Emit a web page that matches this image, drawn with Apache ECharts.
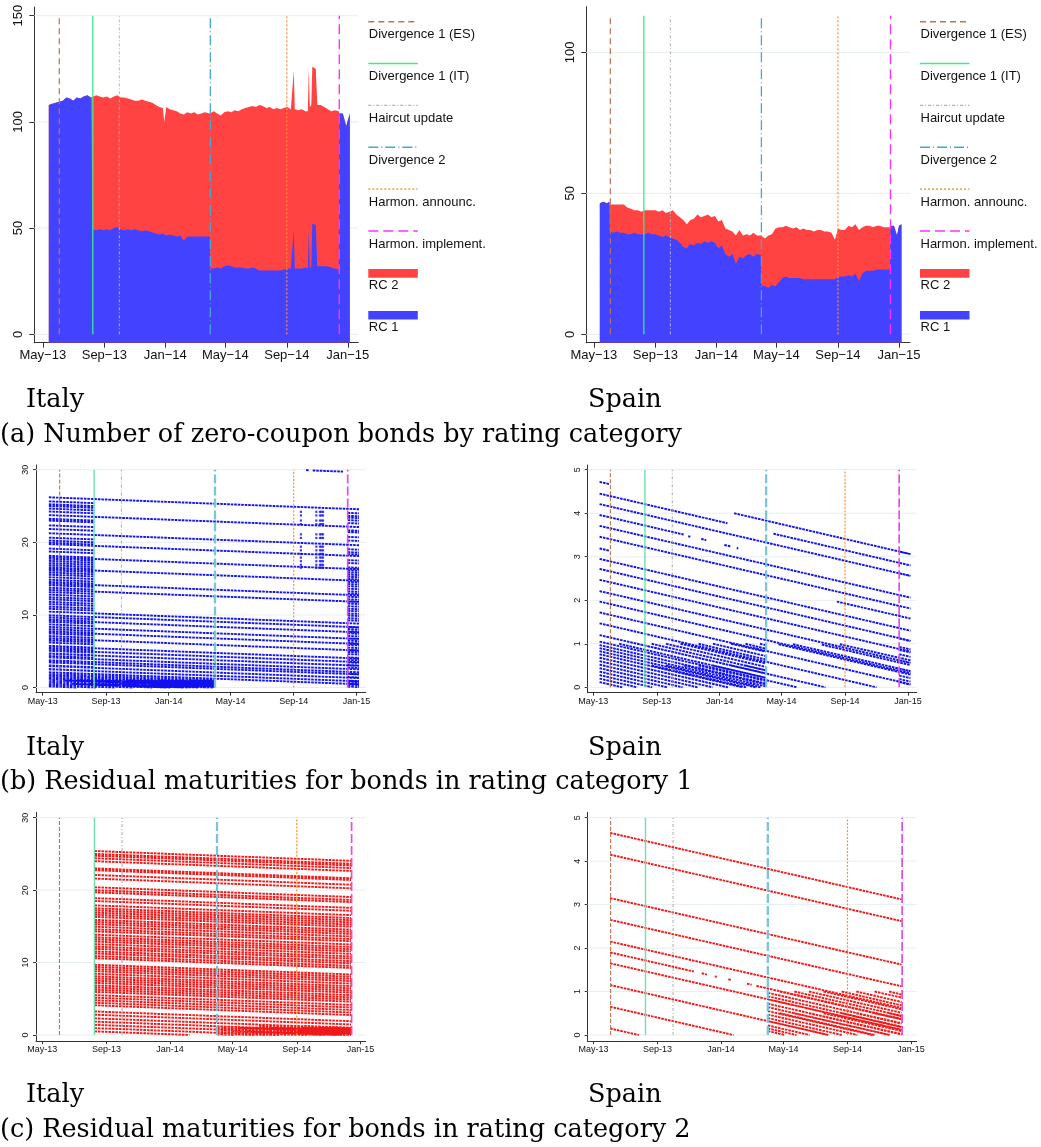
<!DOCTYPE html>
<html><head><meta charset="utf-8">
<script src="https://cdn.jsdelivr.net/npm/echarts@6/dist/echarts.min.js"></script>
<style>html,body{margin:0;padding:0;background:#fff}#c{width:1041px;height:1147px}</style>
</head><body><div id="c"></div>
<script>
// ================= DATA =================
const eventNames = ['Divergence 1 (ES)','Divergence 1 (IT)','Haircut update','Divergence 2','Harmon. announc.','Harmon. implement.'];
const eventDates = ['2013-06-03','2013-08-09','2013-10-01','2014-04-01','2014-09-01','2014-12-15'];
const seriesNames = ['RC 2','RC 1'];
const tickDates = ['2013-05-01','2013-09-01','2014-01-01','2014-05-01','2014-09-01','2015-01-01'];
const tickLabelsTop = ['May\u221213','Sep\u221213','Jan\u221214','May\u221214','Sep\u221214','Jan\u221215'];
const tickLabelsSmall = ['May-13','Sep-13','Jan-14','May-14','Sep-14','Jan-15'];
const captionCountries = ['Italy','Spain'];
const captionTitles = ['(a) Number of zero-coupon bonds by rating category','(b) Residual maturities for bonds in rating category 1','(c) Residual maturities for bonds in rating category 2'];

// --- (a) Italy: number of bonds. RC 1 = height of blue band; RC 2 top = top edge of red band (RC 1 + RC 2)
const itDates = ['2013-05-13','2013-05-20','2013-05-27','2013-06-03','2013-06-10','2013-06-17','2013-06-24','2013-07-01','2013-07-08','2013-07-15','2013-07-22','2013-07-29','2013-08-05','2013-08-08',
'2013-08-09','2013-08-16','2013-08-23','2013-08-30','2013-09-06','2013-09-13','2013-09-20','2013-09-27','2013-10-04','2013-10-11','2013-10-18','2013-10-25','2013-11-01','2013-11-08','2013-11-15','2013-11-22','2013-11-29','2013-12-06','2013-12-13','2013-12-20','2013-12-27','2013-12-30',
'2014-01-03','2014-01-10','2014-01-17','2014-01-24','2014-01-31','2014-02-07','2014-02-14','2014-02-21','2014-02-28','2014-03-07','2014-03-14','2014-03-21','2014-03-31',
'2014-04-01','2014-04-08','2014-04-15','2014-04-22','2014-04-29','2014-05-06','2014-05-13','2014-05-20','2014-05-27','2014-06-03','2014-06-10','2014-06-17','2014-06-24','2014-07-01','2014-07-08','2014-07-15','2014-07-22','2014-07-29','2014-08-05','2014-08-12','2014-08-19','2014-08-26','2014-09-02','2014-09-09','2014-09-13','2014-09-15','2014-09-17','2014-09-24','2014-10-01','2014-10-08','2014-10-13','2014-10-15','2014-10-17','2014-10-20','2014-10-22','2014-10-29','2014-11-01','2014-11-08','2014-11-15','2014-11-22','2014-11-29','2014-12-06','2014-12-14',
'2014-12-15','2014-12-22','2014-12-29','2014-12-31','2015-01-05'];
const itRC1 = [108,108.5,109,109.5,110,111.5,111,110,111.5,111,112,112.5,111.5,112,
49.5,49,49.5,49,49.5,49,50,50.5,49.5,49,49.5,49,49.5,49,48.5,49,48.5,48,47.5,47,47.5,47,
46.5,47,46.5,46,46.5,44,46,46,46,46,46,46,46,
31,31,31.5,31,32,32.5,32,31.5,31.5,31.5,31,31,31.5,31,30,30,30,30,30,30,30,30.5,31,31,31,49,31,31,31,31.5,31,49,31,32,52,51.5,32,32,32,32,31.5,31,30.5,
104,104,98,100,104];
const itRC2Top = [108,108.5,109,109.5,110,111.5,111,110,111.5,111,112,112.5,111.5,112,
112,112.5,112,111.5,112,111,112,112.5,111.5,111.5,111,110.5,110,110,110.5,110,109.5,109,108,107,106.5,100,
107,106,105.5,105,104,103.5,104.5,104,104.5,103.5,104,104.5,104,
104,105,104,103,104.5,105,104.5,105.5,105,106,106.5,107,107.5,107,108,107.5,106.5,107,106,106.5,106,106.5,107,106,106,124,106,105.5,106,105,105,125,107,108,126,125,108,108,107,106,105,105.5,105,
104,104,98,100,104];

// --- (a) Spain: number of bonds
const esDates = ['2013-05-13','2013-05-20','2013-05-27','2013-06-01',
'2013-06-02','2013-06-09','2013-06-16','2013-06-23','2013-06-30','2013-07-07','2013-07-14','2013-07-21','2013-07-28','2013-08-04','2013-08-11','2013-08-18','2013-08-25','2013-09-01','2013-09-08','2013-09-15','2013-09-22','2013-09-29','2013-10-06','2013-10-13','2013-10-20','2013-10-27','2013-11-03','2013-11-10','2013-11-17','2013-11-24','2013-12-01','2013-12-08','2013-12-15','2013-12-22','2013-12-29','2014-01-05','2014-01-12','2014-01-19','2014-01-26','2014-02-02','2014-02-09','2014-02-16','2014-02-23','2014-03-02','2014-03-09','2014-03-16','2014-03-23','2014-03-31',
'2014-04-01','2014-04-08','2014-04-15','2014-04-22','2014-04-29','2014-05-06','2014-05-13','2014-05-20','2014-05-27','2014-06-03','2014-06-10','2014-06-17','2014-06-24','2014-07-01','2014-07-08','2014-07-15','2014-07-22','2014-07-29','2014-08-05','2014-08-12','2014-08-19','2014-08-26','2014-09-01','2014-09-08','2014-09-15','2014-09-22','2014-09-29','2014-10-06','2014-10-13','2014-10-20','2014-10-27','2014-11-03','2014-11-10','2014-11-17','2014-11-24','2014-12-01','2014-12-08','2014-12-14',
'2014-12-15','2014-12-22','2014-12-28','2015-01-01','2015-01-06'];
const esRC1 = [46.5,47,46.5,47,
36.5,36,36.5,36,36,35.5,35.5,36,35.5,35.5,35.5,36,35.5,35.5,35,34.5,35,34.5,34,33.5,32.5,31,30.5,32,31.5,32.5,32,33,32.5,33,32.5,30.5,31.5,28.5,27.5,28.5,25,27.5,27,28,28.5,27.5,28.5,28,
17.5,17,16.5,17.5,17,18.5,20,20.5,20,20,20,20,19.5,19.5,19.5,19.5,19.5,19.5,19.5,19.5,19.5,19.5,20.5,20.5,20.5,21,20.5,21.5,19,21.5,22.5,22.5,22.5,23,23,23,23,23,
38.5,38.5,35,38.5,39];
const esRC2Top = [46.5,47,46.5,47,
46,46,46,46,46,45,44.5,44,44,43.5,44,44,44,44,43.5,44,43,43.5,44,42.5,41.5,40.5,39,40.5,41,42.5,41.5,42,42.5,41.5,42,40,40.5,37.5,37,36.5,35,37,35,35.5,35,36,35,35,
35,34,35,35.5,37.5,38,38,38.5,38,37.5,38,37,37.5,37,37,36.5,37,37,36.5,36.5,36,33.5,37.5,37,37,38.5,38,39,37,38,38.5,38.5,38,38.5,38.5,38,38,38,
38.5,38.5,35,38.5,39];

// --- (b) Italy RC1 residual maturities (years): [value at span start, value at span end]
const itRC1LongSpan = ['2013-05-13','2015-01-06'];
const itRC1Long = [[26.2,24.55],[23.75,22.1],[21.25,19.6],[19.75,18.1],[17.95,16.3],[16.35,14.7],[14.35,12.7],[13.45,11.8],[10.45,8.8],[9.95,8.3],[9.25,7.6],[8.35,6.7],[7.65,6.0],[6.75,5.1],[5.65,4.0],[5.15,3.5],[4.65,3.0],[4.15,2.5],[3.75,2.1],[3.45,1.8],[2.95,1.3],[2.5,0.85],[2.1,0.45]];
const itRC1PreSpan = ['2013-05-13','2013-08-08'];
const itRC1Pre = [[25.64,25.4],[25.24,25.0],[24.99,24.75],[24.64,24.4],[24.24,24.0],[23.24,23.0],[22.99,22.75],[22.34,22.1],[21.84,21.6],[20.64,20.4],[20.24,20.0],[19.94,19.7],[19.14,18.9],[18.74,18.5],[18.14,17.9],[17.74,17.5],[17.44,17.2],[17.14,16.9],[16.84,16.6],[16.54,16.3],[16.14,15.9],[15.84,15.6],[15.54,15.3],[15.19,14.95],[14.84,14.6],[14.54,14.3],[14.09,13.85],[13.74,13.5],[13.44,13.2],[13.14,12.9],[12.79,12.55],[12.44,12.2],[12.14,11.9],[11.79,11.55],[11.49,11.25],[11.14,10.9],[10.84,10.6],[9.94,9.7],[9.64,9.4],[9.34,9.1],[9.04,8.8],[8.69,8.45],[8.34,8.1],[8.04,7.8],[7.74,7.5],[7.44,7.2],[7.09,6.85],[6.79,6.55],[6.49,6.25],[6.19,5.95],[5.74,5.5],[5.39,5.15],[5.04,4.8],[4.69,4.45],[4.34,4.1],[3.49,3.25],[3.04,2.8],[2.54,2.3],[2.09,1.85],[1.64,1.4],[1.19,0.95],[0.74,0.5]];
const itRC1EndSpan = ['2014-12-15','2015-01-06'];
const itRC1End = [[24.05,23.99],[23.65,23.59],[23.4,23.34],[23.05,22.99],[22.65,22.59],[21.65,21.59],[21.4,21.34],[20.75,20.69],[20.25,20.19],[19.05,18.99],[18.65,18.59],[18.35,18.29],[17.55,17.49],[17.15,17.09],[16.55,16.49],[16.15,16.09],[15.85,15.79],[15.55,15.49],[15.25,15.19],[14.95,14.89],[14.55,14.49],[14.25,14.19],[13.95,13.89],[13.6,13.54],[13.25,13.19],[12.95,12.89],[12.5,12.44],[12.15,12.09],[11.85,11.79],[11.55,11.49],[11.2,11.14],[10.85,10.79],[10.55,10.49],[10.2,10.14],[9.9,9.84],[9.55,9.49],[9.25,9.19],[8.35,8.29],[8.05,7.99],[7.75,7.69],[7.45,7.39],[7.1,7.04],[6.75,6.69],[6.45,6.39],[6.15,6.09],[5.85,5.79],[5.5,5.44],[5.2,5.14],[4.9,4.84],[4.6,4.54],[4.15,4.09],[3.8,3.74],[3.45,3.39],[3.1,3.04],[2.75,2.69],[1.9,1.84],[1.45,1.39],[0.95,0.89],[0.5,0.44],[0.91,0.85],[0.83,0.77],[0.75,0.69],[0.66,0.6],[0.58,0.52],[0.42,0.36],[0.37,0.31],[0.33,0.27],[0.25,0.19],[0.17,0.11],[0.12,0.06]];
// explicit segments [start date, start value, end date, end value]
const itRC1Short = [
['2013-05-13',2.05,'2014-03-31',1.17],['2013-05-13',1.95,'2014-03-31',1.07],['2013-05-13',1.75,'2014-03-31',0.87],['2013-05-13',1.55,'2014-03-31',0.67],
['2013-05-13',1.35,'2014-03-31',0.47],['2013-05-13',1.15,'2014-03-31',0.27],['2013-05-13',1.05,'2014-03-31',0.17],['2013-05-13',0.95,'2014-03-31',0.07],
['2013-05-13',0.85,'2014-03-19',0],['2013-05-13',0.75,'2014-02-11',0],['2013-05-13',0.65,'2014-01-05',0],['2013-05-13',0.55,'2013-11-30',0],
['2013-05-13',0.45,'2013-10-24',0],['2013-05-13',0.35,'2013-09-18',0],['2013-05-13',0.25,'2013-08-12',0],['2013-05-13',0.15,'2013-07-07',0],
['2013-06-14',1.0,'2014-03-31',0.21],['2013-07-12',1.0,'2014-03-31',0.28],['2013-08-14',1.0,'2014-03-31',0.37],['2013-09-13',1.0,'2014-03-31',0.45],
['2013-10-14',1.0,'2014-03-31',0.54],['2013-11-14',1.0,'2014-03-31',0.62],['2013-12-13',1.0,'2014-03-31',0.70],['2014-01-14',1.0,'2014-03-31',0.79],
['2014-02-13',1.0,'2014-03-31',0.87],['2014-03-14',1.0,'2014-03-31',0.95],
['2013-06-28',0.5,'2013-12-27',0],['2013-07-30',0.5,'2014-01-28',0],['2013-08-29',0.5,'2014-02-27',0],['2013-09-27',0.5,'2014-03-28',0],
['2013-10-30',0.5,'2014-03-31',0.08],['2013-11-28',0.5,'2014-03-31',0.16],['2013-12-30',0.5,'2014-03-31',0.25],['2014-01-30',0.5,'2014-03-31',0.33],
['2014-02-27',0.5,'2014-03-31',0.41],
['2014-09-25',29.95,'2014-10-01',29.93],['2014-10-08',29.9,'2014-12-06',29.74]];
const itSpikeDates = ['2014-09-15','2014-10-15','2014-10-22','2014-10-25','2014-10-28'];
const itSpikeValues = [24.2,23.7,23.0,22.5,21.1,20.6,19.4,18.9,18.4,17.9,17.4,16.9,16.5];

// --- (c) Italy RC2 residual maturities
const itRC2MainSpan = ['2013-08-09','2014-12-14'];
const itRC2Main = [[25.4,24.05],[25.0,23.65],[24.75,23.4],[24.4,23.05],[24.0,22.65],[23.0,21.65],[22.75,21.4],[22.1,20.75],[21.6,20.25],[20.4,19.05],[20.0,18.65],[19.7,18.35],[18.9,17.55],[18.5,17.15],[17.9,16.55],[17.5,16.15],[17.2,15.85],[16.9,15.55],[16.6,15.25],[16.3,14.95],[15.9,14.55],[15.6,14.25],[15.3,13.95],[14.95,13.6],[14.6,13.25],[14.3,12.95],[13.85,12.5],[13.5,12.15],[13.2,11.85],[12.9,11.55],[12.55,11.2],[12.2,10.85],[11.9,10.55],[11.55,10.2],[11.25,9.9],[10.9,9.55],[10.6,9.25],[9.7,8.35],[9.4,8.05],[9.1,7.75],[8.8,7.45],[8.45,7.1],[8.1,6.75],[7.8,6.45],[7.5,6.15],[7.2,5.85],[6.85,5.5],[6.55,5.2],[6.25,4.9],[5.95,4.6],[5.5,4.15],[5.15,3.8],[4.8,3.45],[4.45,3.1],[4.1,2.75],[3.25,1.9],[2.8,1.45],[2.3,0.95],[1.85,0.5],[1.4,0.05]];
const itRC2Short = [
['2013-08-09',0.95,'2014-07-22',0],['2013-08-09',0.5,'2014-02-07',0],
['2014-04-01',1.17,'2014-12-14',0.47],['2014-04-01',1.07,'2014-12-14',0.37],['2014-04-01',0.87,'2014-12-14',0.17],['2014-04-01',0.67,'2014-12-02',0],
['2014-04-01',0.47,'2014-09-20',0],['2014-04-01',0.27,'2014-06-08',0],['2014-04-01',0.17,'2014-05-03',0],['2014-04-01',0.95,'2014-12-14',0.25],
['2014-04-01',0.79,'2014-12-14',0.09],['2014-04-01',0.70,'2014-12-13',0],['2014-04-01',0.62,'2014-11-15',0],['2014-04-01',0.54,'2014-10-17',0],
['2014-04-01',0.45,'2014-09-14',0],['2014-04-01',0.37,'2014-08-15',0],['2014-04-01',0.28,'2014-07-12',0],['2014-04-01',0.21,'2014-06-16',0],
['2014-04-01',0.41,'2014-08-29',0],['2014-04-01',0.33,'2014-07-30',0],['2014-04-01',0.25,'2014-06-30',0],['2014-04-01',0.16,'2014-05-29',0],
['2014-04-01',0.08,'2014-04-30',0],
['2014-04-14',1.0,'2014-12-14',0.33],['2014-05-14',1.0,'2014-12-14',0.42],['2014-06-13',1.0,'2014-12-14',0.5],['2014-07-14',1.0,'2014-12-14',0.58],
['2014-08-13',1.0,'2014-12-14',0.66],['2014-09-12',1.0,'2014-12-14',0.75],['2014-10-14',1.0,'2014-12-14',0.83],['2014-11-13',1.0,'2014-12-14',0.91],
['2014-04-29',0.5,'2014-10-28',0],['2014-05-29',0.5,'2014-11-27',0],['2014-06-27',0.5,'2014-12-14',0.03],['2014-07-30',0.5,'2014-12-14',0.12],
['2014-08-28',0.5,'2014-12-14',0.2],['2014-09-29',0.5,'2014-12-14',0.29],['2014-10-30',0.5,'2014-12-14',0.37],['2014-11-27',0.5,'2014-12-14',0.45],
['2014-06-20',1.25,'2014-12-14',0.77],['2014-09-15',1.25,'2014-12-14',1.0]];

// --- (b) Spain RC1 residual maturities
const esRC1LongSpan = ['2013-05-13','2015-01-06'];
const esRC1Long = [[4.21,2.56],[3.71,2.06],[3.46,1.81],[2.95,1.30],[2.72,1.07],[2.47,0.82],[2.21,0.56],[1.97,0.32],[1.72,0.07]];
const esRC1Short = [
['2013-05-13',1.47,'2014-11-01',0],['2013-05-13',1.2,'2014-07-25',0],['2013-05-13',1.05,'2014-05-31',0],
['2013-05-13',4.72,'2013-06-01',4.67],['2013-05-13',3.19,'2013-06-01',3.14],['2013-05-13',4.45,'2014-01-16',3.77],['2014-04-15',3.53,'2015-01-06',2.80],
['2013-05-13',3.96,'2013-10-23',3.51],['2013-11-01',3.47,'2013-11-05',3.46],['2013-11-26',3.41,'2013-12-06',3.38],['2014-01-10',3.27,'2014-01-22',3.24],
['2014-02-03',3.2,'2014-02-06',3.19],['2014-01-29',4.0,'2015-01-06',3.06],['2014-08-16',1.97,'2015-01-06',1.58],
['2013-05-13',0.97,'2014-03-31',0.09],['2013-05-13',0.9,'2014-03-31',0.02],['2013-05-13',0.83,'2014-03-12',0],['2013-05-13',0.76,'2014-02-14',0],
['2013-05-13',0.68,'2014-01-16',0],['2013-05-13',0.6,'2013-12-18',0],['2013-05-13',0.52,'2013-11-19',0],['2013-05-13',0.44,'2013-10-21',0],
['2013-05-13',0.36,'2013-09-21',0],['2013-05-13',0.28,'2013-08-23',0],['2013-05-13',0.2,'2013-07-25',0],['2013-05-13',0.12,'2013-06-26',0],
['2013-06-20',1.0,'2014-03-31',0.22],['2013-07-25',1.0,'2014-03-31',0.32],['2013-08-22',1.0,'2014-03-31',0.39],['2013-09-19',1.0,'2014-03-31',0.47],
['2013-10-17',1.0,'2014-03-31',0.55],['2013-11-21',1.0,'2014-03-31',0.64],['2013-12-19',1.0,'2014-03-31',0.72],['2014-01-23',1.0,'2014-03-31',0.82],
['2014-02-20',1.0,'2014-03-31',0.89],['2014-03-20',1.0,'2014-03-31',0.97],
['2013-07-18',0.5,'2014-01-17',0],['2013-08-22',0.5,'2014-02-21',0],['2013-09-19',0.5,'2014-03-21',0],['2013-10-24',0.5,'2014-03-31',0.07],
['2013-11-21',0.5,'2014-03-31',0.15],['2013-12-19',0.5,'2014-03-31',0.22],['2014-01-23',0.5,'2014-03-31',0.32],['2014-02-20',0.5,'2014-03-31',0.39],
['2014-04-25',0.99,'2015-01-06',0.29],['2014-05-23',0.99,'2015-01-06',0.37],['2014-07-18',0.98,'2015-01-06',0.51],['2014-08-22',0.99,'2015-01-06',0.62],
['2014-12-15',3.12,'2015-01-06',3.06],['2014-12-15',2.62,'2015-01-06',2.56],['2014-12-15',1.12,'2015-01-06',1.06],['2014-12-15',0.62,'2015-01-06',0.56],
['2014-12-15',0.12,'2015-01-06',0.06],['2014-12-15',0.93,'2015-01-06',0.87],['2014-12-15',0.86,'2015-01-06',0.8],['2014-12-15',0.76,'2015-01-06',0.7],
['2014-12-15',0.43,'2015-01-06',0.37],['2014-12-15',0.27,'2015-01-06',0.21],['2014-12-15',0.19,'2015-01-06',0.13]];

// --- (c) Spain RC2 residual maturities
const esRC2MainSpan = ['2013-06-02','2014-12-14'];
const esRC2Main = [[4.65,3.12],[4.15,2.62],[3.15,1.62],[2.65,1.12],[2.15,0.62],[1.65,0.12]];
const esRC2Short = [
['2013-06-02',1.9,'2013-11-10',1.46],['2013-11-25',1.42,'2013-12-05',1.39],['2013-12-20',1.35,'2013-12-24',1.34],['2014-01-15',1.28,'2014-01-20',1.27],
['2014-02-20',1.18,'2014-03-01',1.16],['2014-03-10',1.13,'2014-12-14',0.37],['2013-06-02',1.15,'2014-07-26',0],['2013-06-02',0.65,'2014-01-25',0],
['2013-06-02',0.15,'2013-07-27',0],
['2014-04-01',0.97,'2014-12-14',0.27],['2014-04-01',0.89,'2014-12-14',0.19],['2014-04-01',0.82,'2014-12-14',0.12],['2014-04-01',0.72,'2014-12-14',0.02],
['2014-04-01',0.64,'2014-11-21',0],['2014-04-01',0.55,'2014-10-19',0],['2014-04-01',0.47,'2014-09-20',0],['2014-04-01',0.39,'2014-08-21',0],
['2014-04-01',0.32,'2014-07-27',0],['2014-04-01',0.22,'2014-06-20',0],['2014-04-01',0.15,'2014-05-26',0],['2014-04-01',0.09,'2014-05-04',0],
['2014-04-24',1.0,'2014-12-14',0.36],['2014-05-22',1.0,'2014-12-14',0.44],['2014-06-19',1.0,'2014-12-14',0.51],['2014-07-17',1.0,'2014-12-14',0.59],
['2014-08-21',1.0,'2014-12-14',0.68],['2014-09-18',1.0,'2014-12-14',0.76],['2014-10-23',1.0,'2014-12-14',0.86],['2014-11-20',1.0,'2014-12-14',0.93],
['2014-04-24',0.5,'2014-10-23',0],['2014-05-22',0.5,'2014-11-21',0],['2014-06-19',0.5,'2014-12-14',0.01],['2014-07-17',0.5,'2014-12-14',0.09],
['2014-08-21',0.5,'2014-12-14',0.18],['2014-09-18',0.5,'2014-12-14',0.26],['2014-10-23',0.5,'2014-12-14',0.36],['2014-11-20',0.5,'2014-12-14',0.43]];

// ================= BUILD =================
const T = s => Date.parse(s);
const tickTs = tickDates.map(T);
const FONT = '"Liberation Sans", Arial, sans-serif';
const AX = '#333';

function spanSegs(span, pairs){ const o=[]; pairs.forEach(p=>{o.push([T(span[0]),p[0]],[T(span[1]),p[1]],[T(span[1]),null]);}); return o; }
function explicitSegs(list){ const o=[]; list.forEach(s=>{o.push([T(s[0]),s[1]],[T(s[2]),s[3]],[T(s[2]),null]);}); return o; }

const panels = [
 {left:34.3,top:7,w:324,h:335.7,xmin:'2013-04-14',xmax:'2015-01-22',ymin:-3.95,ymax:154.1,yt:[0,50,100,150],big:true,evTop:150},
 {left:586.3,top:6.7,w:323.7,h:336,xmin:'2013-04-16',xmax:'2015-01-23',ymin:-2.98,ymax:116.2,yt:[0,50,100],big:true,evTop:113},
 {left:36,top:465,w:329.7,h:227.7,xmin:'2013-04-18',xmax:'2015-01-19',ymin:-0.716,ymax:30.65,yt:[0,10,20,30],big:false,evTop:30},
 {left:587.7,top:465,w:329,h:227.7,xmin:'2013-04-20',xmax:'2015-01-18',ymin:-0.124,ymax:5.108,yt:[0,1,2,3,4,5],big:false,evTop:5},
 {left:36,top:812.3,w:329.7,h:228.9,xmin:'2013-04-19',xmax:'2015-01-11',ymin:-0.86,ymax:30.75,yt:[0,10,20,30],big:false,evTop:30},
 {left:587.7,top:812.3,w:329,h:228.9,xmin:'2013-04-20',xmax:'2015-01-12',ymin:-0.143,ymax:5.124,yt:[0,1,2,3,4,5],big:false,evTop:5}
];

const evStyleBig = [
 {color:'#B8744E',type:[6,4],width:1.2},
 {color:'#3DEB8C',type:'solid',width:1.3},
 {color:'#B4B4B4',type:[3,2,1,2],width:1},
 {color:'#45A8D0',type:[10,3,1,3],width:1.3},
 {color:'#FF9030',type:[2,2],width:1.2},
 {color:'#FF30FF',type:[10,5],width:1.4}
];
const evStyleSmall = [
 {color:'#B8744E',type:[4,2],width:1.1},
 {color:'#6BE3A8',type:'solid',width:1.4},
 {color:'#AAAAAA',type:[3,2,1,2],width:1},
 {color:'#7CC4DA',type:[9,3],width:2.3},
 {color:'#FF9030',type:[2,1.5],width:1.2},
 {color:'#E050E0',type:[9,3],width:1.7}
];

const grid=[], xAxis=[], yAxis=[], series=[];
panels.forEach((p,i)=>{
  grid.push({left:p.left,top:p.top,width:p.w,height:p.h,containLabel:false});
  const fs = p.big?13:9;
  const labels = p.big?tickLabelsTop:tickLabelsSmall;
  xAxis.push({gridIndex:i,type:'value',min:T(p.xmin),max:T(p.xmax),splitLine:{show:false},
    axisLine:{onZero:false,lineStyle:{color:AX,width:1}},
    axisTick:{customValues:tickTs,length:p.big?5:3,lineStyle:{color:AX}},
    axisLabel:{customValues:tickTs,formatter:v=>labels[tickTs.indexOf(v)],fontSize:fs,fontFamily:FONT,color:'#111',margin:p.big?6:4}});
  yAxis.push({gridIndex:i,type:'value',min:p.ymin,max:p.ymax,splitLine:{show:false},
    axisLine:{onZero:false,lineStyle:{color:AX,width:1}},
    axisTick:{customValues:p.yt,length:p.big?5:3,lineStyle:{color:AX}},
    axisLabel:{customValues:p.yt,rotate:90,fontSize:fs,fontFamily:FONT,color:'#111',margin:p.big?9:6}});
  const gl=[]; p.yt.forEach(v=>{gl.push([T(p.xmin),v],[T(p.xmax),v],[T(p.xmax),null]);});
  series.push({type:'line',xAxisIndex:i,yAxisIndex:i,data:gl,symbol:'none',silent:true,z:1,
    lineStyle:{color:'#E6EEF1',width:1},animation:false});
});

// top area panels: red band drawn up to its top edge, blue band drawn over it
function areaPair(i, dates, rc1, rc2top){
  series.push({name:'RC 2',type:'line',xAxisIndex:i,yAxisIndex:i,symbol:'none',z:2,animation:false,silent:true,
    data:dates.map((d,k)=>[T(d),rc2top[k]]),lineStyle:{width:0},areaStyle:{color:'#FF4343',opacity:1,origin:'start'}});
  series.push({name:'RC 1',type:'line',xAxisIndex:i,yAxisIndex:i,symbol:'none',z:3,animation:false,silent:true,
    data:dates.map((d,k)=>[T(d),rc1[k]]),lineStyle:{width:0},areaStyle:{color:'#4343FF',opacity:1,origin:'start'}});
}
areaPair(0,itDates,itRC1,itRC2Top);
areaPair(1,esDates,esRC1,esRC2Top);

function bondSeries(i, data, color){
  series.push({type:'line',xAxisIndex:i,yAxisIndex:i,data,symbol:'none',connectNulls:false,z:2,silent:true,animation:false,
    lineStyle:{color,width:1.9,type:[2.6,0.9]}});
}
const BLUE='#1010F0', RED='#F01818';
bondSeries(2, spanSegs(itRC1LongSpan,itRC1Long).concat(spanSegs(itRC1PreSpan,itRC1Pre),spanSegs(itRC1EndSpan,itRC1End),explicitSegs(itRC1Short)), BLUE);
const spikePts=[]; itSpikeDates.forEach(d=>itSpikeValues.forEach(v=>spikePts.push([T(d),v])));
series.push({type:'scatter',xAxisIndex:2,yAxisIndex:2,data:spikePts,symbol:'rect',symbolSize:2.2,itemStyle:{color:BLUE},z:2,silent:true,animation:false});
bondSeries(3, spanSegs(esRC1LongSpan,esRC1Long).concat(explicitSegs(esRC1Short)), BLUE);
bondSeries(4, spanSegs(itRC2MainSpan,itRC2Main).concat(explicitSegs(itRC2Short)), RED);
bondSeries(5, spanSegs(esRC2MainSpan,esRC2Main).concat(explicitSegs(esRC2Short)), RED);

panels.forEach((p,i)=>{
  eventDates.forEach((d,k)=>{
    const st = (p.big?evStyleBig:evStyleSmall)[k];
    series.push({name:eventNames[k],type:'line',xAxisIndex:i,yAxisIndex:i,data:[[T(d),0],[T(d),p.evTop]],symbol:'none',z:4,silent:true,animation:false,
      lineStyle:{color:st.color,width:st.width,type:st.type}});
  });
});

const graphic=[];
[368.3, 920].forEach(lx=>{
  eventNames.forEach((n,k)=>{
    const st=evStyleBig[k]; const y=21.7+41.85*k;
    graphic.push({type:'line',shape:{x1:lx,y1:y,x2:lx+49.5,y2:y},style:{stroke:st.color,lineWidth:st.width+0.2,lineDash:st.type==='solid'?null:st.type}});
    graphic.push({type:'text',x:lx+0.5,y:34.7+41.85*k,style:{text:n,font:'13px '+FONT,fill:'#111',verticalAlign:'middle',textVerticalAlign:'middle'}});
  });
  seriesNames.forEach((n,k)=>{
    const y=269+41.9*k;
    graphic.push({type:'rect',shape:{x:lx,y:y,width:49.5,height:8.7},style:{fill:k===0?'#FF4343':'#4343FF'}});
    graphic.push({type:'text',x:lx+0.5,y:285.9+41.85*k,style:{text:n,font:'13px '+FONT,fill:'#111',verticalAlign:'middle',textVerticalAlign:'middle'}});
  });
});
const SERIF='"DejaVu Serif", serif';
[0,1,2].forEach(r=>{
  const dy = r*347.6;
  graphic.push({type:'text',x:26,y:400.5+dy,style:{text:captionCountries[0],font:'25.5px '+SERIF,fill:'#000',verticalAlign:'middle',textVerticalAlign:'middle'}});
  graphic.push({type:'text',x:588,y:400.5+dy,style:{text:captionCountries[1],font:'25.5px '+SERIF,fill:'#000',verticalAlign:'middle',textVerticalAlign:'middle'}});
  graphic.push({type:'text',x:0,y:435+dy,style:{text:captionTitles[r],font:'25.5px '+SERIF,fill:'#000',verticalAlign:'middle',textVerticalAlign:'middle'}});
});

const chart = echarts.init(document.getElementById('c'),null,{renderer:'canvas'});
chart.setOption({backgroundColor:'#fff',animation:false,grid,xAxis,yAxis,series,graphic});
</script>
</body></html>
